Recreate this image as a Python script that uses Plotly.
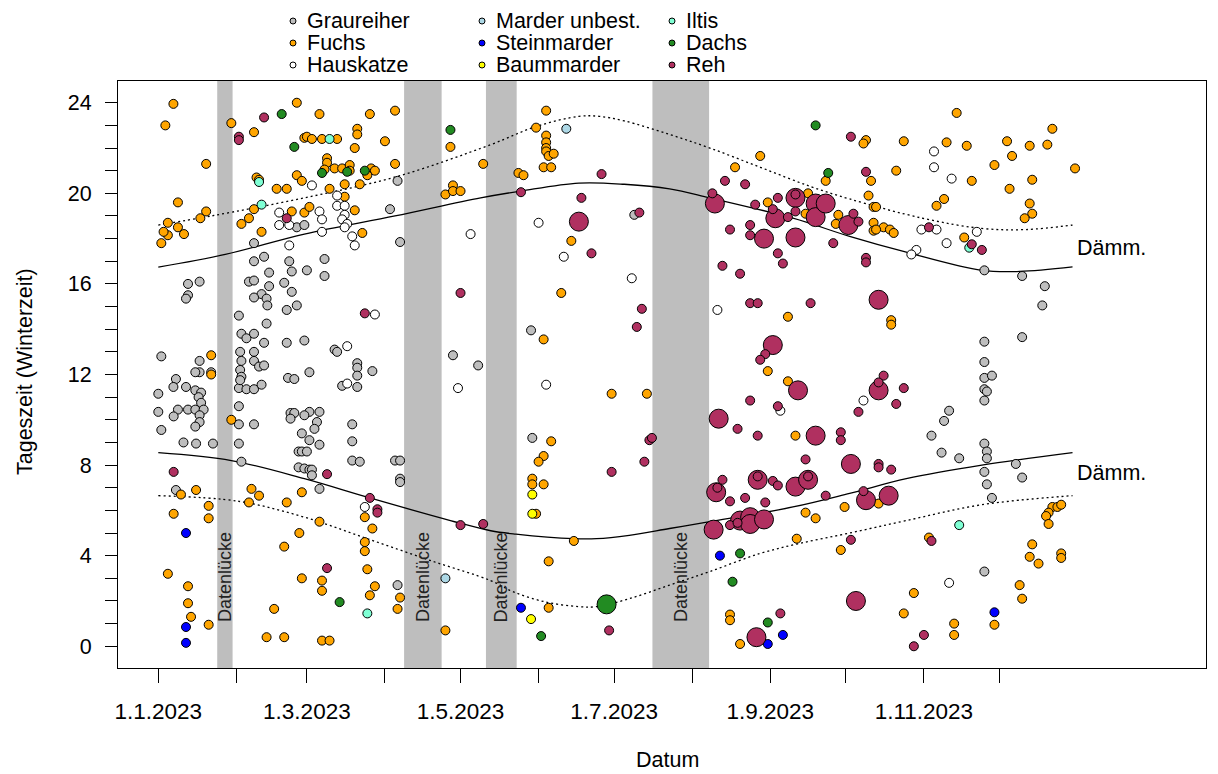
import plotly.graph_objects as go

# ---------------- data (day = Tage seit 1.1.2023, hour = Tageszeit Winterzeit) ----------------
grau_day = [55, 58, 38, 42, 38, 44, 52, 53, 11.8, 16.4, 11.8, 11, 36, 38, 44, 41, 38, 43, 43.3, 50, 53, 51, 55,
            32, 43, 33, 35, 38, 42, 51, 58, 1.2, 16.4, 16.4, 21, 14.7, 7, 32.5, 33, 32.5, 38, 38, 40, 42, 33, 51.5, 54,
            0, 6, 11, 14.7, 17, 16, 17, 0, 7.8, 11.8, 14.7, 18, 6.1, 16.4, 16.4, 14.7, 1.2, 10, 15, 21.7, 32,
            32, 35, 38, 41, 32.5, 32, 32, 38, 33, 52.5, 54, 52.5, 57, 55.7, 57, 55.7, 7,
            95, 92, 96, 66, 59, 66, 70, 71, 79, 79, 79, 85, 60, 117, 127,
            73, 79, 60, 64, 63, 62, 58, 60, 64, 59, 77, 77, 77, 80, 94, 96, 96, 96, 58, 60, 61, 61, 64, 95,
            189, 148, 148.5,
            328, 343, 352, 351, 328, 343, 328, 328, 331, 328, 329, 328, 314, 312, 307, 311, 318, 328, 329, 329, 328,
            329, 331, 340.5, 343, 328]
grau_hour = [18.5, 18.6, 17.8, 17.2, 17.0, 16.5, 17.0, 16.55, 16.0, 16.1, 15.5, 15.35, 16.1, 16.15, 15.9, 15.55,
             15.4, 15.35, 15.05, 16.05, 15.65, 14.85, 15.05,
             14.6, 14.25, 13.8, 13.6, 13.8, 13.4, 13.4, 13.5, 12.8, 12.6, 12.1, 12.1, 12.1, 11.8, 13.0, 12.6, 12.2,
             13.0, 12.6, 12.35, 12.4, 11.9, 11.85, 11.8,
             11.15, 11.45, 11.45, 11.3, 11.2, 11.0, 10.75, 10.35, 10.45, 10.45, 10.45, 10.45, 10.15, 10.2, 9.9, 9.7,
             9.55, 9.0, 8.95, 8.95, 8.95,
             11.4, 11.35, 11.35, 11.55, 11.75, 10.6, 9.8, 9.8, 8.15, 10.3, 10.3, 10.05, 9.4, 8.6, 8.6, 7.9, 6.9,
             20.55, 19.3, 17.85, 17.1, 16.6, 16.35, 13.1, 13.0, 12.5, 12.3, 11.95, 12.15, 12.1, 12.85, 12.4,
             11.5, 11.45, 10.35, 10.35, 9.9, 9.6, 10.2, 9.1, 8.9, 8.6, 9.8, 9.05, 8.2, 8.15, 8.2, 8.2, 7.4, 7.25,
             7.85, 7.8, 7.8, 7.55, 6.95, 2.7,
             19.05, 13.95, 9.2,
             16.6, 16.35, 15.9, 15.05, 13.45, 13.65, 12.55, 11.85, 11.95, 11.35, 11.25, 10.85, 10.4, 9.95, 9.3, 8.55,
             8.3, 8.95, 8.6, 8.3, 7.7, 7.15, 6.55, 8.05, 7.45, 3.3]

fuchs_day = [6, 2.8, 19, 7.8, 19, 16.7, 3.8, 7.8, 10.2, 3.8, 2.1, 1.2, 29, 38, 55, 58, 39, 40, 55, 57, 47, 51, 38,
             36, 33, 53, 58, 41, 21,
             21, 29, 9, 15, 20, 6.1, 20, 37, 40, 36, 51, 57, 56, 50, 57, 3.8, 11.8, 11.8, 13, 20, 46, 43, 50,
             64, 84, 94, 59, 61, 65, 71, 79, 79, 90, 78, 116, 129, 67, 67, 66, 70, 73, 76, 76, 84.5, 86, 83, 94,
             74, 80, 68, 74, 78, 60, 81, 114, 117, 117, 120,
             82, 85, 82, 82, 64, 83, 65, 65, 86, 84, 96, 95, 65, 68, 114,
             154, 150, 154, 154, 154, 154, 155, 157, 153, 156, 143, 145, 164, 160, 153,
             180, 194, 156, 153, 151, 148.5, 148.5, 153, 150, 165, 155, 155,
             239, 229, 265, 242, 258, 270, 269, 257, 250, 242, 250,
             253, 272.5, 257, 261, 253.5, 271, 227, 227, 231,
             317, 281, 280, 296, 313, 321, 337, 346, 353, 355, 339, 332, 364, 293, 283, 282, 284, 285, 323, 347,
             338, 312, 309, 346, 347, 344, 284, 288, 290.5, 292, 284, 285, 320, 291, 291,
             291, 286, 306, 355, 357, 358.5, 353.5, 352.5, 353.5, 347, 346, 349.5, 358.5, 358.5, 342, 343, 300,
             296, 332, 316, 316]
fuchs_hour = [23.95, 23.0, 21.3, 19.6, 19.2, 18.9, 18.7, 18.5, 18.2, 18.15, 18.3, 17.8, 23.1, 22.7, 24.0, 22.45,
              20.7, 20.6, 20.8, 20.55, 20.2, 20.2, 19.3, 18.9, 18.65, 19.2, 19.15, 18.3, 12.85,
              12.0, 10.0, 6.7, 6.9, 6.2, 5.85, 5.65, 6.95, 6.65, 6.35, 6.35, 6.8, 5.0, 4.4, 3.0, 3.2, 2.65, 1.9,
              1.3, 0.95, 1.65, 0.4, 0.4,
              23.5, 23.5, 23.65, 22.5, 22.4, 22.4, 22.4, 22.85, 22.6, 22.3, 22.0, 22.05, 21.3, 21.55, 21.35, 21.05,
              21.1, 21.1, 21.25, 21.0, 21.1, 21.0, 20.8, 21.3, 20.4, 20.4, 20.2, 19.85, 19.25, 19.4, 18.25, 19.95,
              20.35, 20.1, 20.1,
              5.7, 5.2, 4.6, 4.2, 5.5, 3.4, 2.9, 2.45, 2.65, 2.25, 2.15, 1.65, 0.25, 0.25, 0.7,
              23.65, 22.9, 22.55, 22.25, 22.0, 21.85, 21.65, 21.75, 21.15, 21.15, 20.9, 20.8, 17.9, 15.6, 13.55,
              11.15, 11.15, 9.05, 8.4, 8.15, 7.4, 7.15, 7.15, 5.85, 4.65, 3.75, 1.7,
              21.65, 21.15, 20.55, 19.6, 20.0, 19.05, 18.65, 19.1, 14.55, 12.15, 11.7,
              9.3, 6.15, 5.9, 5.65, 4.75, 4.25, 1.4, 1.15, 0.1,
              23.55, 22.35, 22.2, 22.3, 22.25, 22.1, 22.3, 22.1, 22.15, 22.85, 21.65, 21.25, 21.1, 21.0, 20.55,
              19.9, 19.4, 19.4, 20.55, 20.6, 20.2, 19.75, 19.45, 19.55, 19.1, 18.9, 18.7, 18.5, 18.4, 18.25, 18.35,
              18.4, 18.05, 14.4, 14.2,
              6.7, 6.3, 4.8, 6.15, 6.15, 6.25, 5.9, 5.75, 5.4, 4.5, 3.95, 3.65, 4.1, 3.9, 2.7, 2.1, 2.35, 1.45,
              0.95, 1.0, 0.5]

katze_day = [48, 48, 52, 52, 61, 71, 71, 74, 74, 73, 75, 74, 64, 65, 65, 77, 78, 124, 86, 75, 75, 119, 82,
             151, 161, 188, 154, 222, 247, 308, 308, 315, 303, 309, 325, 313, 301, 299, 280, 314]
katze_hour = [19.15, 18.6, 18.6, 17.7, 20.35, 19.9, 19.45, 19.45, 19.05, 18.85, 18.65, 18.5, 19.2, 18.85, 18.3,
              18.1, 17.7, 18.2, 14.65, 13.25, 11.6, 11.4, 6.15, 18.7, 17.2, 16.25, 11.55, 14.85, 10.4, 21.85,
              21.15, 20.65, 18.4, 18.4, 18.3, 17.8, 17.5, 17.3, 10.85, 2.8]

marder_day = [114, 162]
marder_hour = [3.0, 22.85]

stein_day = [11, 11, 11, 144, 223, 248, 242, 332]
stein_hour = [5.0, 0.85, 0.15, 1.7, 4.0, 0.5, 0.1, 1.5]

baum_day = [148.5, 148.5, 148]
baum_hour = [6.7, 5.85, 1.2]

iltis_day = [40, 41, 68, 83, 322, 318]
iltis_hour = [20.5, 19.5, 22.4, 1.45, 17.6, 5.35]

dachs_day = [49, 54, 116, 65, 75, 82, 72, 152, 261, 266, 231, 228, 242]
dachs_hour = [23.5, 22.05, 22.8, 20.9, 20.95, 21.0, 1.95, 0.45, 23.0, 20.9, 4.1, 2.85, 1.05]
dachs_gruppe_day = [178]
dachs_gruppe_hour = [1.85]

reh_day = [42, 32, 32, 51, 6.1, 82, 120, 67, 84, 87, 87, 120, 129, 67,
           176, 144, 168, 191, 172, 192, 190, 195, 196, 193, 180, 179,
           275, 225, 233, 220, 237, 246, 244, 253, 250, 227, 235, 235, 268, 246, 248, 224, 231, 235, 238, 259,
           241, 239, 253,
           235, 246, 230, 238, 271, 271, 257, 224, 222, 244, 246, 258, 227, 233, 241, 265, 227, 230, 247, 238,
           281, 276, 278, 306, 323, 327, 281, 281, 288, 286,
           296, 293, 278, 286, 286, 291, 280, 275, 307, 304, 300]
reh_hour = [23.35, 22.5, 22.35, 18.9, 7.7, 14.7, 15.6, 7.6, 6.55, 6.05, 5.9, 5.35, 5.4, 3.45,
            20.85, 20.05, 19.8, 19.15, 17.35, 14.9, 14.1, 9.1, 9.2, 8.15, 7.7, 0.7,
            22.5, 20.55, 20.4, 20.0, 19.5, 19.8, 19.3, 19.2, 18.95, 18.4, 18.6, 18.15, 17.8, 17.35, 16.9, 16.8,
            16.45, 15.15, 15.15, 15.15, 12.9, 12.65, 19.95,
            10.85, 10.6, 9.6, 9.3, 9.45, 9.1, 8.25, 7.35, 7.0, 7.3, 7.1, 7.5, 6.4, 6.55, 6.35, 6.65, 5.35, 5.45,
            1.45, 7.5,
            20.95, 19.1, 18.75, 18.5, 17.75, 17.5, 17.15, 16.95, 11.95, 11.65,
            11.4, 10.7, 10.35, 8.05, 7.9, 7.8, 6.85, 4.7, 4.65, 0.5, 0.0]
reh_gruppe_day = [167, 221, 253, 245, 261, 261, 265, 274, 240.5, 253, 244, 254, 222.5, 261, 275, 221.5, 238,
                  253, 258, 220.5, 231, 235, 235, 240.5, 237.5, 286, 286, 277, 281, 290]
reh_gruppe_hour = [18.75, 19.55, 19.8, 18.9, 19.55, 18.95, 19.55, 18.6, 18.0, 18.05, 13.3, 11.3, 10.05, 9.3,
                   8.05, 6.8, 7.35, 7.05, 7.35, 5.15, 5.55, 5.7, 5.4, 5.6, 0.4, 15.3, 11.3, 2.0, 6.45, 6.65]

# Daemmerungskurven
su_day = [0, 26.6, 58, 94, 128, 144, 167, 185, 203, 219, 252, 274.5, 297, 327, 342, 363]
su_hour = [16.74, 17.3, 18.2, 19.0, 19.8, 20.1, 20.45, 20.4, 20.2, 19.8, 18.9, 18.1, 17.4, 16.6, 16.55, 16.75]
sa_day = [0, 29, 58, 84, 116, 132, 142, 165, 174, 187, 203, 219, 252, 274.5, 297, 327, 363]
sa_hour = [8.55, 8.2, 7.4, 6.55, 5.55, 5.1, 4.95, 4.75, 4.75, 4.9, 5.2, 5.5, 6.15, 6.75, 7.4, 8.0, 8.55]
da_ende_day = [0, 21, 58, 95, 132, 150, 167, 175, 185, 203, 219, 239, 259, 274.5, 303.5, 327, 344.5, 363]
da_ende_hour = [18.6, 19.0, 19.8, 20.75, 22.15, 22.95, 23.4, 23.4, 23.2, 22.6, 22.0, 21.15, 20.3, 19.75, 18.9,
                18.45, 18.4, 18.6]
da_beginn_day = [0, 32, 58, 83, 109, 132, 141, 154, 167, 174, 187, 203, 219, 239, 255, 274.5, 297, 327, 363]
da_beginn_hour = [6.65, 6.4, 5.7, 4.75, 3.75, 2.9, 2.4, 1.95, 1.75, 1.75, 2.1, 2.7, 3.3, 4.1, 4.55, 5.0, 5.55,
                  6.25, 6.65]

luecke_start = [23.4, 97.6, 130.1, 196.2]
luecke_ende = [29.5, 112.5, 142.3, 218.7]

monat_tage = [0, 31, 59, 90, 120, 151, 181, 212, 243, 273, 304, 334]
monat_labels = ["1.1.2023", "", "1.3.2023", "", "1.5.2023", "", "1.7.2023", "", "1.9.2023", "", "1.11.2023", ""]
stunden = list(range(0, 25))
stunden_labels = [str(h) if h % 4 == 0 else "" for h in stunden]

arten = ["Graureiher", "Fuchs", "Hauskatze", "Marder unbest.", "Steinmarder", "Baummarder", "Iltis", "Dachs", "Reh"]
farben = ["#BEBEBE", "#FFA500", "#FFFFFF", "#ADD8E6", "#0000FF", "#FFFF00", "#7FFFD4", "#228B22", "#B03060"]

# ---------------- figure ----------------
OFF = 8                      # page body margin of the html page
W, H = 1218 - OFF, 774 - OFF
PL, PR, PT, PB = 118, 1206, 81, 668   # plot box in screen pixels
ML, MR, MT, MB = PL - OFF, OFF + W - PR, PT - OFF, OFF + H - PB
FONT = "Liberation Sans, Arial, sans-serif"
FS = 21.5

fig = go.Figure()

for a, b in zip(luecke_start, luecke_ende):
    fig.add_shape(type="rect", xref="x", yref="paper", x0=a, x1=b, y0=0, y1=1,
                  fillcolor="#BEBEBE", line_width=0, layer="below")
    fig.add_annotation(x=(a + b) / 2, y=3.05, xref="x", yref="y", text="Datenlücke", textangle=-90,
                       showarrow=False, xanchor="center", yanchor="middle",
                       font=dict(family=FONT, size=18, color="#222222"))

for dx, dy, dash in [(su_day, su_hour, "solid"), (sa_day, sa_hour, "solid"),
                     (da_ende_day, da_ende_hour, "2px,3px"), (da_beginn_day, da_beginn_hour, "2px,3px")]:
    fig.add_trace(go.Scatter(x=dx, y=dy, mode="lines", showlegend=False, hoverinfo="skip",
                             line=dict(color="black", width=1.3, dash=dash, shape="spline", smoothing=1.0)))

def pts(x, y, color, size=9):
    fig.add_trace(go.Scatter(x=x, y=y, mode="markers", showlegend=False,
                             marker=dict(size=size, color=color, line=dict(color="black", width=1))))

pts(grau_day, grau_hour, farben[0])
pts(fuchs_day, fuchs_hour, farben[1])
pts(katze_day, katze_hour, farben[2])
pts(marder_day, marder_hour, farben[3])
pts(stein_day, stein_hour, farben[4])
pts(baum_day, baum_hour, farben[5])
pts(iltis_day, iltis_hour, farben[6])
pts(dachs_day, dachs_hour, farben[7])
pts(dachs_gruppe_day, dachs_gruppe_hour, farben[7], 19)
pts(reh_gruppe_day, reh_gruppe_hour, farben[8], 19)
pts(reh_day, reh_hour, farben[8])

for d, txt_y in [(364, 17.6), (364, 7.65)]:
    fig.add_annotation(x=d, y=txt_y, xref="x", yref="y", text="Dämm.", showarrow=False, xanchor="left",
                       yanchor="middle", font=dict(family=FONT, size=FS, color="black"))

# legend (three columns, top)
pw, ph = PR - PL, PB - PT
def px2paper(px, py):
    return (px - PL) / pw, (PB - py) / ph
col_x = [293, 482, 672]
row_y = [21, 43, 65]
for i, (name, col) in enumerate(zip(arten, farben)):
    c, r = i // 3, i % 3
    mx, my = px2paper(col_x[c], row_y[r])
    fig.add_shape(type="circle", xref="paper", yref="paper", xsizemode="pixel", ysizemode="pixel",
                  xanchor=mx, yanchor=my, x0=-3, x1=3, y0=-3, y1=3,
                  fillcolor=col, line=dict(color="black", width=1))
    tx, ty = px2paper(col_x[c] + 12, row_y[r])
    fig.add_annotation(x=tx, y=ty, xref="paper", yref="paper", text=name, showarrow=False,
                       xanchor="left", yanchor="middle", font=dict(family=FONT, size=FS, color="black"))

ax, ay = px2paper(667, 760)
fig.add_annotation(x=ax, y=ay, xref="paper", yref="paper", text="Datum", showarrow=False,
                   xanchor="center", yanchor="middle", borderpad=0,
                   font=dict(family=FONT, size=FS, color="black"))
ax, ay = px2paper(25, 372)
fig.add_annotation(x=ax, y=ay, xref="paper", yref="paper", text="Tageszeit (Winterzeit)", textangle=-90,
                   showarrow=False, xanchor="center", yanchor="middle",
                   font=dict(family=FONT, size=FS, color="black"))

fig.update_xaxes(range=[-16, 416], tickmode="array", tickvals=monat_tage, ticktext=monat_labels,
                 ticks="outside", ticklen=14, tickwidth=1, tickcolor="black", showline=True, mirror=True,
                 linecolor="black", linewidth=1, showgrid=False, zeroline=False,
                 tickfont=dict(family=FONT, size=22.5, color="black"), ticklabelstandoff=9)
fig.update_yaxes(range=[-0.96, 24.96], tickmode="array", tickvals=stunden, ticktext=stunden_labels,
                 ticks="outside", ticklen=12, tickwidth=1, tickcolor="black", showline=True, mirror=True,
                 linecolor="black", linewidth=1, showgrid=False, zeroline=False,
                 tickfont=dict(family=FONT, size=FS, color="black"), ticklabelstandoff=9)
fig.update_layout(width=W, height=H, margin=dict(l=ML, r=MR, t=MT, b=MB), plot_bgcolor="white",
                  paper_bgcolor="white", showlegend=False)

fig.write_html("out.html")
